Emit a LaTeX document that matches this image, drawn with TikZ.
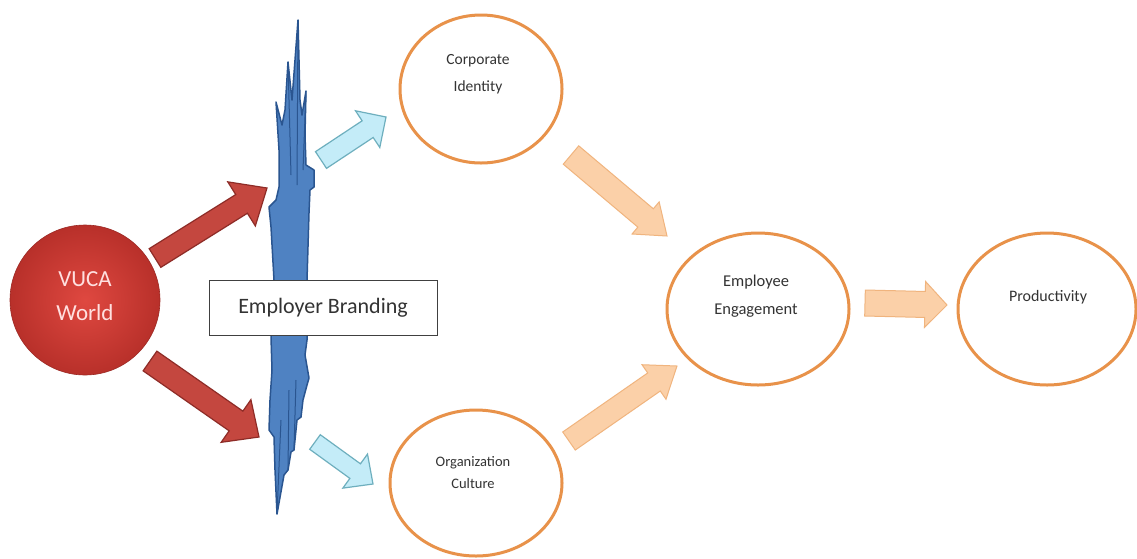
\documentclass[tikz,border=0pt]{standalone}
\usepackage{fontspec}
\setmainfont{Carlito}
\usetikzlibrary{shapes.geometric,calc}
\definecolor{ringorange}{HTML}{E8924A}
\definecolor{redfill}{HTML}{C4473F}
\definecolor{redline}{HTML}{8E2C27}
\definecolor{vucain}{HTML}{DF4840}
\definecolor{vucaout}{HTML}{B8302A}
\definecolor{cyanfill}{HTML}{C4ECF8}
\definecolor{cyanline}{HTML}{6EAFBE}
\definecolor{peachfill}{HTML}{FBD0A8}
\definecolor{peachline}{HTML}{F0B47E}
\definecolor{bluefill}{HTML}{4F82C2}
\definecolor{blueline}{HTML}{2A5590}
\definecolor{txtgray}{HTML}{333333}
\newcommand\fatarrow[6]{%
  \coordinate (fah) at ($(#3)!#6!(#2)$);
  \draw[#1] ($(#2)!#4!90:(#3)$) -- ($(fah)!#4!90:(#3)$) -- ($(fah)!#5!90:(#3)$) -- (#3)
    -- ($(fah)!#5!-90:(#3)$) -- ($(fah)!#4!-90:(#3)$) -- ($(#2)!#4!-90:(#3)$) -- cycle;
}
\tikzset{
  ring/.style={ellipse, draw=ringorange, line width=3pt, fill=white, inner sep=0pt},
  ringtext/.style={text=txtgray, align=center},
  redarrow/.style={fill=redfill, draw=redline, line width=1.2pt, line join=miter},
  cyanarrow/.style={fill=cyanfill, draw=cyanline, line width=1.2pt, line join=miter},
  peacharrow/.style={fill=peachfill, draw=peachline, line width=1pt, line join=miter},
}
\begin{document}
\begin{tikzpicture}[x=1pt,y=-1pt]
\useasboundingbox[fill=white] (0,0) rectangle (1137,558);

% jagged blue strip
\draw[fill=bluefill, draw=blueline, line width=1.5pt, line join=round]
  (298,20) -- (300,100) -- (302,115) -- (306,91) -- (305,135) -- (306,165) -- (314,170)
  -- (314,187) -- (310,190) -- (309,213) -- (307,280) -- (307,340) -- (305,355) -- (309,378)
  -- (307,385) -- (303,400) -- (301,417) -- (297,420) -- (294,450) -- (291,452) -- (288,470)
  -- (284,475) -- (277,514) -- (275,470) -- (274,437) -- (269,430) -- (270,400) -- (272,370)
  -- (271,337) -- (273,300) -- (274,280) -- (271,227) -- (269,207) -- (276,200) -- (279,187)
  -- (279,150) -- (276,102) -- (282,125) -- (285,110) -- (288,62) -- (292,100) -- cycle;
\draw[blueline, line width=1pt] (288,62) -- (291,175);
\draw[blueline, line width=1pt] (298,20) -- (297,185);
\draw[blueline, line width=1pt] (306,91) -- (303,170);
\draw[blueline, line width=1pt] (277,514) -- (281,420);
\draw[blueline, line width=1pt] (288,470) -- (289,390);
\draw[blueline, line width=1pt] (294,450) -- (296,380);

% nodes
\node[circle, minimum size=150pt, inner sep=0pt, shading=radial, inner color=vucain, outer color=vucaout, draw=vucaout!85!black, line width=0.6pt] (vuca) at (85,300) {};
\node[text=red!12!white, align=center, font=\fontsize{23}{34}\selectfont] (vucat) at (85,296) {VUCA\\World};

\node[ring, minimum width=162pt, minimum height=148pt] (ci) at (481,89) {};
\node[ringtext, font=\fontsize{15.5}{27}\selectfont] (cit) at (478,74) {Corporate\\Identity};

\node[ring, minimum width=172pt, minimum height=146pt] (oc) at (476,483) {};
\node[ringtext, font=\fontsize{14.5}{22}\selectfont] (oct) at (473,473) {Organization\\Culture};

\node[ring, minimum width=182pt, minimum height=152pt] (ee) at (758,309) {};
\node[ringtext, font=\fontsize{16.5}{28}\selectfont] (eet) at (756,296) {Employee\\Engagement};

\node[ring, minimum width=178pt, minimum height=152pt] (pr) at (1047,309) {};
\node[ringtext, font=\fontsize{16}{20}\selectfont] (prt) at (1048,297) {Productivity};

% arrow end points
\coordinate (r1a) at (155,258); \coordinate (r1b) at (267,188);
\coordinate (r2a) at (150,361); \coordinate (r2b) at (259,437);
\coordinate (c1a) at (321,160); \coordinate (c1b) at (386,117);
\coordinate (c2a) at (315,442); \coordinate (c2b) at (373,484);
\coordinate (o1a) at (571,155); \coordinate (o1b) at (667,236);
\coordinate (o2a) at (569,441); \coordinate (o2b) at (677,366);
\coordinate (o3a) at (865,303); \coordinate (o3b) at (947,305);

\fatarrow{redarrow}{r1a}{r1b}{11pt}{26pt}{30pt}
\fatarrow{redarrow}{r2a}{r2b}{12pt}{26pt}{28pt}
\fatarrow{cyanarrow}{c1a}{c1b}{10pt}{22pt}{22pt}
\fatarrow{cyanarrow}{c2a}{c2b}{9pt}{21pt}{22pt}
\fatarrow{peacharrow}{o1a}{o1b}{12pt}{21pt}{28pt}
\fatarrow{peacharrow}{o2a}{o2b}{11pt}{21pt}{28pt}
\fatarrow{peacharrow}{o3a}{o3b}{13pt}{23pt}{22pt}

% Employer branding box
\node[draw=black!75, fill=white, line width=1pt, minimum width=228pt, minimum height=55pt, inner sep=0pt, text=txtgray, font=\fontsize{22}{26}\selectfont] (eb) at (323,307.5) {Employer Branding};
\end{tikzpicture}
\end{document}
